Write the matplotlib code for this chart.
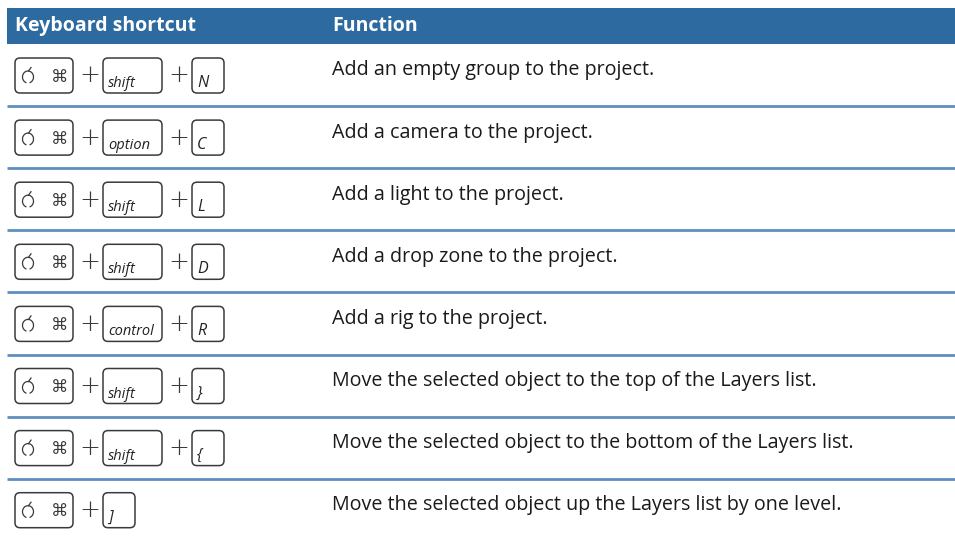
import matplotlib.pyplot as plt
from matplotlib.patches import FancyBboxPatch, Rectangle, Arc

headers = ["Keyboard shortcut", "Function"]
key_combos = [
    ["shift", "N"],
    ["option", "C"],
    ["shift", "L"],
    ["shift", "D"],
    ["control", "R"],
    ["shift", "}"],
    ["shift", "{"],
    ["]"],
]
functions = [
    "Add an empty group to the project.",
    "Add a camera to the project.",
    "Add a light to the project.",
    "Add a drop zone to the project.",
    "Add a rig to the project.",
    "Move the selected object to the top of the Layers list.",
    "Move the selected object to the bottom of the Layers list.",
    "Move the selected object up the Layers list by one level.",
]

W, H = 955, 536
fig = plt.figure(figsize=(W / 100, H / 100), dpi=100)
ax = fig.add_axes([0, 0, 1, 1])
ax.set_xlim(0, W)
ax.set_ylim(H, 0)
ax.axis("off")

font = "Open Sans"
blue = "#2d6a9f"
line_blue = "#5f8fbf"
edge = "#3a3a3a"

# header band
ax.add_patch(Rectangle((7, 8), W - 7, 36, color=blue, lw=0))
ax.text(15, 26, headers[0], color="white", fontsize=14, fontweight="bold",
        family=font, va="center", ha="left")
ax.text(332, 26, headers[1], color="white", fontsize=14, fontweight="bold",
        family=font, va="center", ha="left")

row_top = 44
row_h = 62.1


def key_box(x0, x1, y0, y1):
    ax.add_patch(FancyBboxPatch((x0, y0), x1 - x0, y1 - y0,
                                boxstyle="round,pad=0,rounding_size=5",
                                fc="white", ec=edge, lw=1.1))


def apple(cx, cy):
    # rough outline of the apple logo
    ax.add_patch(Arc((cx, cy + 1.5), 11, 12, theta1=105, theta2=75, color=edge, lw=0.9))
    ax.plot([cx + 0.5, cx + 3], [cy - 4.5, cy - 8], color=edge, lw=0.9)


for i, (keys, desc) in enumerate(zip(key_combos, functions)):
    yc = row_top + row_h * i + 31.5
    y0, y1 = yc - 17.5, yc + 17.5
    # command key
    key_box(15, 73, y0, y1)
    apple(28, yc)
    ax.text(60, yc + 1, "\u2318", fontsize=12.5, family="DejaVu Sans",
            ha="center", va="center", color=edge)
    x = 73
    for k in keys:
        ax.text(x + 17, yc, "+", fontsize=18, family="DejaVu Sans",
                ha="center", va="center", color=edge, fontweight="light")
        x0 = x + 30
        wid = 59 if len(k) > 1 else 32
        key_box(x0, x0 + wid, y0, y1)
        ax.text(x0 + 5, y1 - 6, k, fontsize=10.5 if len(k) > 1 else 11.5,
                family=font, style="italic", ha="left", va="baseline", color="#222222")
        x = x0 + wid
    ax.text(332, yc - 5, desc, fontsize=14.2, family=font, ha="left",
            va="center", color="#1a1a1a")
    if i < len(functions) - 1:
        ly = row_top + row_h * (i + 1)
        ax.plot([7, W], [ly, ly], color=line_blue, lw=2, solid_capstyle="butt")

fig.savefig("out.png", dpi=100)
